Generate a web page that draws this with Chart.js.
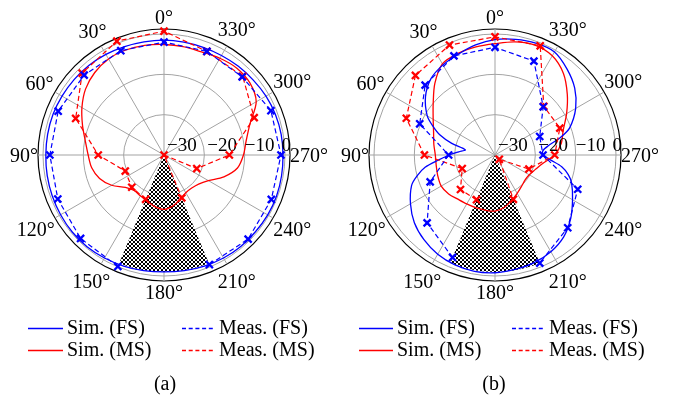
<!DOCTYPE html>
<html><head><meta charset="utf-8">
<script src="https://cdn.jsdelivr.net/npm/chart.js@4.4.1/dist/chart.umd.min.js"></script>
<style>
html,body{margin:0;padding:0;background:#fff;}
#wrap{position:relative;width:673px;height:399px;overflow:hidden;font-family:"Liberation Serif","Times New Roman",serif;}
canvas{position:absolute;top:0;}
.t{position:absolute;font-size:20px;line-height:20px;white-space:nowrap;color:#000;}
.c{position:absolute;font-size:20px;line-height:20px;width:60px;text-align:center;color:#000;}
svg{position:absolute;left:0;top:0;}
</style></head><body>
<div id="wrap">
<canvas id="a0" width="330" height="320" style="left:0px"></canvas>
<canvas id="a1" width="330" height="320" style="left:0px"></canvas>
<canvas id="b0" width="330" height="320" style="left:331px"></canvas>
<canvas id="b1" width="330" height="320" style="left:331px"></canvas>
<svg width="673" height="399">
  <line x1="28" y1="328.5" x2="63" y2="328.5" stroke="#0000ff" stroke-width="1.3"/>
  <line x1="182" y1="328.5" x2="215" y2="328.5" stroke="#0000ff" stroke-width="1.3" stroke-dasharray="4,2.7"/>
  <line x1="28" y1="350.5" x2="63" y2="350.5" stroke="#ff0000" stroke-width="1.3"/>
  <line x1="182" y1="350.5" x2="215" y2="350.5" stroke="#ff0000" stroke-width="1.3" stroke-dasharray="4,2.7"/>
  <line x1="359" y1="328.5" x2="393" y2="328.5" stroke="#0000ff" stroke-width="1.3"/>
  <line x1="512" y1="328.5" x2="545" y2="328.5" stroke="#0000ff" stroke-width="1.3" stroke-dasharray="4,2.7"/>
  <line x1="359" y1="350.5" x2="393" y2="350.5" stroke="#ff0000" stroke-width="1.3"/>
  <line x1="512" y1="350.5" x2="545" y2="350.5" stroke="#ff0000" stroke-width="1.3" stroke-dasharray="4,2.7"/>
</svg>
<div class="t" style="left:67px;top:316.5px">Sim. (FS)</div>
<div class="t" style="left:219px;top:316.5px">Meas. (FS)</div>
<div class="t" style="left:67px;top:338.5px">Sim. (MS)</div>
<div class="t" style="left:219px;top:338.5px">Meas. (MS)</div>
<div class="c" style="left:135px;top:373px">(a)</div>
<div class="t" style="left:397px;top:316.5px">Sim. (FS)</div>
<div class="t" style="left:549px;top:316.5px">Meas. (FS)</div>
<div class="t" style="left:397px;top:338.5px">Sim. (MS)</div>
<div class="t" style="left:549px;top:338.5px">Meas. (MS)</div>
<div class="c" style="left:464px;top:373px">(b)</div>
</div>
<script>
// ---------- data ----------
const fineStep = 2.5;      // angular resolution of simulated curves (deg)
const measStep = 22.5;     // angular resolution of measurements (deg)
const degreeTicks = [0,30,60,90,120,150,180,210,240,270,300,330];
const radialTicks = [-30,-20,-10,0];
const radialTickText = ['\u221230','\u221220','\u221210','0'];
const rMin = -30, rMax = 1.24;

const simAngles10 = [0,10,20,30,40,50,60,70,80,90,100,110,120,130,140,150,160,170,180,190,200,210,220,230,240,250,260,270,280,290,300,310,320,330,340,350];
const measAngles = [0,22.5,45,67.5,90,112.5,135,157.5,180,202.5,225,247.5,270,292.5,315,337.5];

// (a)
const simFS_a = [-1.5,-1.5,-1.4,-1.2,-1.0,-0.9,-0.8,-0.7,-0.7,-0.7,-0.6,-0.5,-0.4,-0.3,-0.3,-0.5,-0.7,-0.9,-1.0,-0.9,-0.7,-0.5,-0.4,-0.4,-0.3,-0.3,-0.4,-0.5,-0.5,-0.6,-0.8,-1.1,-1.3,-1.5,-1.6,-1.6];
const simMS_a = [-2.6,-2.4,-2.3,-2.5,-3.3,-4.6,-6.5,-8.5,-10.2,-11.2,-11.8,-13.0,-15.0,-17.5,-18.5,-18.3,-17.8,-17.0,-16.5,-17.2,-18.3,-19.2,-19.3,-18.8,-17.3,-14.2,-11.5,-10.3,-9.3,-7.3,-3.6,-2.2,-1.9,-2.3,-2.8,-2.7];
const measFS_a = [-2.0,-2.0,-2.0,-1.6,-1.7,-1.5,-0.75,-0.1,null,-0.6,-0.5,-1.2,-1.0,-1.3,-2.6,-2.2];
const measMS_a = [0.7,0.55,-1.3,-6.3,-13.7,-19.6,-18.7,-18.1,null,-18.5,-30,-21.2,-13.8,-5.8,-2.4,-2.2];

// (b)
const simFS_b_angles = [0,10,20,30,40,50,60,65,70,75,80,85,90,95,100,105,110,120,130,140,150,160,170,180,190,200,210,220,230,240,250,255,260,265,270,275,280,285,290,300,310,320,330,340,350];
const simFS_b = [-1.4,-2.3,-3.4,-4.2,-5.3,-7.5,-10.6,-13.0,-15.5,-18.9,-22.5,-21.0,-18.7,-16.0,-12.4,-10.0,-8.0,-5.8,-3.9,-2.6,-1.6,-1.0,-0.7,-0.8,-1.2,-1.6,-2.3,-3.5,-5.5,-7.8,-9.8,-11.2,-13.2,-16.2,-18.0,-18.1,-16.5,-13.2,-10.3,-6.9,-4.2,-2.2,-0.5,-0.5,-0.9];
const simMS_b = [-2.4,-2.8,-3.2,-3.9,-6.8,-10.0,-12.3,-13.8,-14.6,-15.2,-15.2,-14.9,-14.6,-15.0,-15.7,-16.0,-16.1,-16.1,-16.1,-16.8,-18.0,-19.0,-19.8,-20.3,-20.2,-19.4,-18.0,-15.2,-13.3,-12.0,-9.5,-6.6,-3.6,-1.6,-1.0,-1.5];
const measFS_b = [-3.3,-3.4,-5.5,-9.8,-18.5,-12.6,-6.2,-2.5,null,-1.0,-4.5,-7.8,-18.1,-18.0,-13.1,-4.8];
const measMS_b = [-0.7,-0.5,-2.1,-6.2,-12.5,-21.2,-17.9,-18.0,null,-18.1,-28.5,-20.9,-15.2,-12.6,-12.9,-0.7];

// blocked (hatched) sector
const blockStart = 157.5, blockEnd = 202.5, blockLevel = -1.0;

// ---------- style ----------
const BLUE = '#0000ff', RED = '#ff0000', GRID = '#a3a3a3';
const rTickShift = [3, 3, 0, 6];            // px offset of radial tick text from its ring
const rTickAlign = ['left','left','left','right'];
Chart.defaults.font.family = '"Liberation Serif", "Times New Roman", serif';

function labelsFor(step) { // radar runs clockwise => angles listed counter-clockwise
  const n = Math.round(360 / step);
  return Array.from({length: n}, (_, i) => (360 - i * step) % 360);
}
function place(angles, values, step) {
  const n = Math.round(360 / step);
  const out = new Array(n).fill(null);
  angles.forEach((a, k) => { const i = Math.round(((360 - a) % 360) / step) % n; out[i] = values[k]; });
  return out;
}
function hatchSeries() {
  return labelsFor(fineStep).map(a => (a >= blockStart - 1e-9 && a <= blockEnd + 1e-9) ? blockLevel : rMin);
}
function makeHatch() {
  const c = document.createElement('canvas'); c.width = 4; c.height = 4;
  const g = c.getContext('2d');
  g.fillStyle = '#fff'; g.fillRect(0, 0, 4, 4);
  g.fillStyle = '#000';
  for (let i = 0; i < 4; i++) { g.fillRect(i, i, 1, 1); g.fillRect(3 - i, i, 1, 1); }
  return g.createPattern(c, 'repeat');
}
const padding = {left: 38, top: 29, right: 40, bottom: 39};

function rScale(base) {
  return {
    min: rMin, max: rMax, startAngle: 0,
    afterBuildTicks: (ax) => { ax.ticks = radialTicks.concat([rMax]).map(v => ({value: v})); },
    ticks: {display: false},
    pointLabels: {display: false},
    grid: base ? {
      display: true, circular: true,
      color: c => (c.tick && c.tick.value > 0.5) ? '#000' : GRID,
      lineWidth: c => (c.tick && c.tick.value > 0.5) ? 1.2 : 1
    } : {display: false, circular: true},
    angleLines: base ? {
      display: true, color: GRID,
      lineWidth: c => (c.index % Math.round(30 / fineStep) === 0) ? 1 : 0
    } : {display: false}
  };
}

const polarText = {
  id: 'polarText',
  afterDraw(chart) {
    const s = chart.scales.r, ctx = chart.ctx;
    const R = s.drawingArea;
    ctx.save();
    ctx.fillStyle = '#000';
    ctx.textBaseline = 'alphabetic';
    ctx.font = '20px "Liberation Serif"';
    degreeTicks.forEach(a => {
      const idx = Math.round(((360 - a) % 360) / fineStep);
      const u = s.getPointPosition(idx, 1);
      const dx = u.x - s.xCenter, dy = u.y - s.yCenter;
      const txt = a + '\u00b0';
      const w = ctx.measureText(txt).width;
      const d = R + Math.abs(dx) * w / 2 + Math.abs(dy) * 23 / 2;
      const p = s.getPointPosition(idx, d);
      ctx.textAlign = 'center';
      ctx.fillText(txt, p.x, p.y + 6.75);
    });
    ctx.font = '19px "Liberation Serif"';
    radialTicks.forEach((v, k) => {
      const x = s.xCenter + s.getDistanceFromCenterForValue(v);
      ctx.textAlign = rTickAlign[k];
      ctx.fillText(radialTickText[k], x + rTickShift[k], s.yCenter - 4);
    });
    ctx.restore();
  }
};

function baseChart(id, simFSangles, simFS, simMS) {
  return new Chart(document.getElementById(id), {
    type: 'radar',
    data: {
      labels: labelsFor(fineStep),
      datasets: [
        {label: 'Sim. (FS)', data: place(simFSangles, simFS, fineStep), borderColor: BLUE, borderWidth: 1.3, pointRadius: 0, fill: false, spanGaps: true, tension: 0.3, order: 1, clip: 10},
        {label: 'Sim. (MS)', data: place(simAngles10, simMS, fineStep), borderColor: RED, borderWidth: 1.3, pointRadius: 0, fill: false, spanGaps: true, tension: 0.3, order: 2, clip: 10},
        {label: 'block', data: hatchSeries(), borderWidth: 0, borderColor: 'rgba(0,0,0,0)', backgroundColor: makeHatch(), fill: 'start', pointRadius: 0, pointHitRadius: 0, order: 9}
      ]
    },
    options: {
      responsive: false, animation: false, devicePixelRatio: 1, events: [],
      layout: {padding},
      plugins: {legend: {display: false}, tooltip: {enabled: false}},
      scales: {r: rScale(true)}
    },
    plugins: [polarText]
  });
}
function measChart(id, measFS, measMS) {
  const common = {borderWidth: 1.2, borderDash: [5, 3], pointStyle: 'crossRot', pointRadius: 5, pointBorderWidth: 2.3, fill: false, spanGaps: false, tension: 0, clip: 10};
  return new Chart(document.getElementById(id), {
    type: 'radar',
    data: {
      labels: labelsFor(measStep),
      datasets: [
        Object.assign({label: 'Meas. (FS)', data: place(measAngles, measFS, measStep), borderColor: BLUE, pointBorderColor: BLUE, pointBackgroundColor: BLUE}, common),
        Object.assign({label: 'Meas. (MS)', data: place(measAngles, measMS, measStep), borderColor: RED, pointBorderColor: RED, pointBackgroundColor: RED}, common)
      ]
    },
    options: {
      responsive: false, animation: false, devicePixelRatio: 1, events: [],
      layout: {padding},
      plugins: {legend: {display: false}, tooltip: {enabled: false}},
      scales: {r: rScale(false)}
    }
  });
}

baseChart('a0', simAngles10, simFS_a, simMS_a);
measChart('a1', measFS_a, measMS_a);
baseChart('b0', simFS_b_angles, simFS_b, simMS_b);
measChart('b1', measFS_b, measMS_b);
</script>
</body></html>
